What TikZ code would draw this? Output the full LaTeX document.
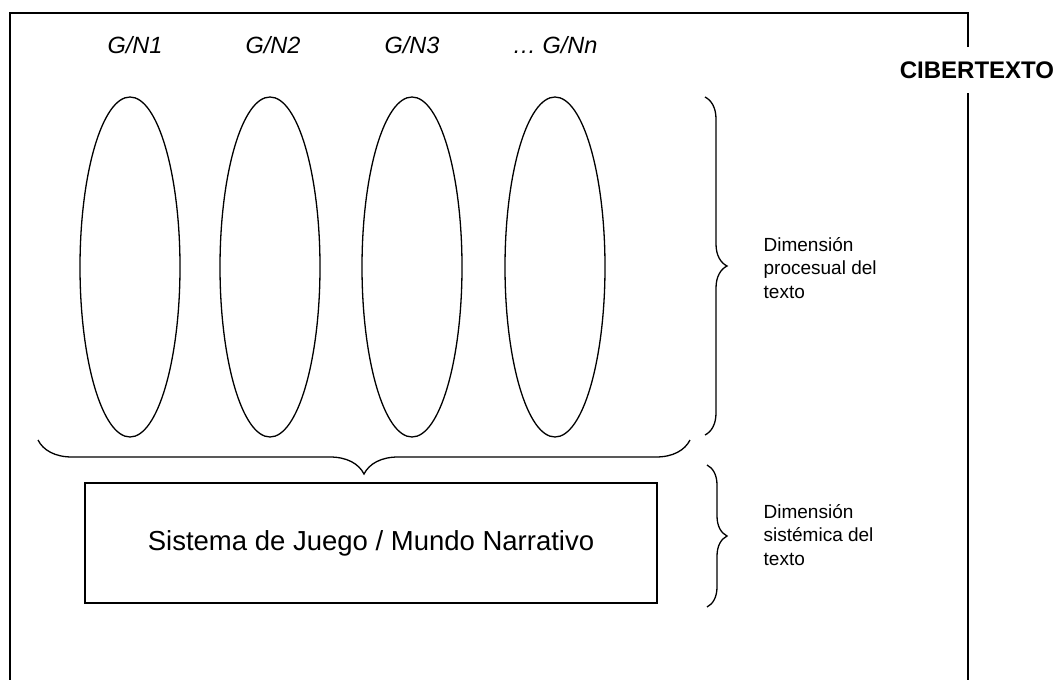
\documentclass[tikz,border=0pt]{standalone}
\usepackage{fontspec}
\setmainfont{Liberation Sans}
\usetikzlibrary{shapes.geometric,decorations.pathreplacing}

\begin{document}
\begin{tikzpicture}[x=1pt,y=-1pt,line width=1.3pt,
  gn/.style={shape=ellipse,draw=black,minimum width=100pt,minimum height=340pt,inner sep=0pt},
  gnlabel/.style={font=\fontsize{23.5}{28}\selectfont\itshape},
  dimlabel/.style={align=left,anchor=west,inner sep=0pt,font=\fontsize{19}{23.5}\selectfont},
  bracket/.style={decorate,decoration={brace,amplitude=#1}}]
\useasboundingbox (0,0) rectangle (1056,680);
\draw (968,47) -- (968,13) -- (10,13) -- (10,680);
\draw (968,93) -- (968,680);
\node[font=\fontsize{24}{28}\selectfont\bfseries] (ciber) at (977,70) {CIBERTEXTO};

\node[gn] (g1) at (130,267) {};
\node[gn] (g2) at (270,267) {};
\node[gn] (g3) at (412,267) {};
\node[gn] (g4) at (555,267) {};
\node[gnlabel] (l1) at (135,45) {G/N1};
\node[gnlabel] (l2) at (273,45) {G/N2};
\node[gnlabel] (l3) at (412,45) {G/N3};
\node[gnlabel] (l4) at (555,45) {… G/Nn};

\node[draw=black,minimum width=572pt,minimum height=120pt,font=\fontsize{27.5}{32}\selectfont] (sys) at (371,543) {Sistema de Juego / Mundo Narrativo};

\coordinate (pb1) at (705,97);
\coordinate (pb2) at (705,435);
\coordinate (hb1) at (690,440);
\coordinate (hb2) at (38,440);
\coordinate (sb1) at (707,465);
\coordinate (sb2) at (707,607);
\draw[bracket=22pt] (pb1) -- (pb2);
\draw[bracket=34pt] (hb1) -- (hb2);
\draw[bracket=20pt] (sb1) -- (sb2);

\node[dimlabel] (dp) at (763,268) {Dimensión\\procesual del\\texto};
\node[dimlabel] (ds) at (763,535) {Dimensión\\sistémica del\\texto};
\end{tikzpicture}
\end{document}
